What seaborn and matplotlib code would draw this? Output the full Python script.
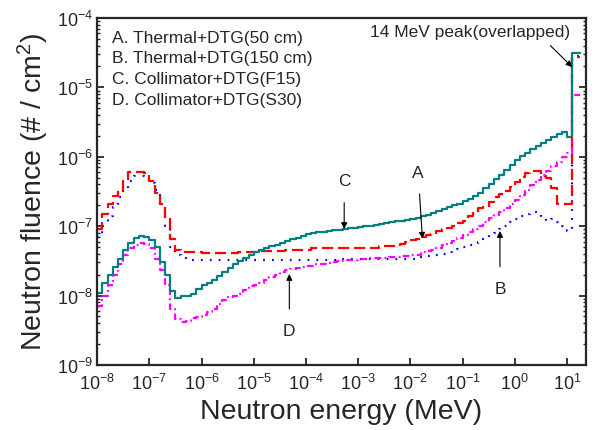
import numpy as np
import matplotlib
matplotlib.use('Agg')
import matplotlib.pyplot as plt
import seaborn as sns

# group structure: 10 bins per decade from 1e-8 MeV up to ~12.6 MeV, plus the 14 MeV peak bin
log_edges = list(np.round(np.arange(-8.0, 1.11, 0.1), 1)) + [1.25]
energy_edges = 10.0 ** np.array(log_edges)

# A. Thermal+DTG(50 cm) - red dashed
flux_a = [9e-8, 1.5e-7, 2.1e-7, 2.7e-7, 3.3e-7, 4.5e-7, 6.0e-7, 6.0e-7, 6.1e-7, 5.8e-7,
          4.4e-7, 3.0e-7, 2.1e-7, 1.35e-7, 6.5e-8, 4.5e-8, 4.3e-8, 4.3e-8, 4.3e-8, 4.3e-8,
          4.1e-8, 4.1e-8, 4.1e-8, 4.1e-8, 4.1e-8, 4.1e-8, 4.1e-8, 4.2e-8, 4.2e-8, 4.2e-8,
          4.2e-8, 4.4e-8, 4.4e-8, 4.4e-8, 4.4e-8, 4.4e-8, 4.6e-8, 4.6e-8, 4.6e-8, 4.6e-8,
          4.6e-8, 4.8e-8, 4.8e-8, 4.8e-8, 4.8e-8, 4.8e-8, 4.8e-8, 4.8e-8, 4.8e-8, 4.8e-8,
          4.9e-8, 4.9e-8, 4.9e-8, 4.9e-8, 5.2e-8, 5.2e-8, 5.2e-8, 5.2e-8, 5.6e-8, 6.0e-8,
          6.4e-8, 6.6e-8, 7.0e-8, 7.5e-8, 7.8e-8, 8.5e-8, 9.0e-8, 9.5e-8, 1.0e-7, 1.1e-7,
          1.2e-7, 1.4e-7, 1.55e-7, 1.8e-7, 1.9e-7, 2.2e-7, 2.6e-7, 2.9e-7, 3.2e-7, 3.7e-7,
          4.3e-7, 5.1e-7, 5.8e-7, 6.3e-7, 6.3e-7, 5.2e-7, 5.0e-7, 3.5e-7, 2.1e-7, 2.1e-7,
          2.1e-7, 2.7e-5]

# B. Thermal+DTG(150 cm) - blue dotted
flux_b = [7e-8, 1.1e-7, 1.4e-7, 1.9e-7, 2.6e-7, 3.4e-7, 4.4e-7, 5.2e-7, 5.3e-7, 4.8e-7,
          4.2e-7, 3.3e-7, 2.0e-7, 1.0e-7, 5.0e-8, 3.8e-8, 3.5e-8, 3.3e-8, 3.3e-8, 3.3e-8,
          3.3e-8, 3.2e-8, 3.2e-8, 3.2e-8, 3.2e-8, 3.2e-8, 3.2e-8, 3.2e-8, 3.2e-8, 3.2e-8,
          3.2e-8, 3.3e-8, 3.3e-8, 3.3e-8, 3.3e-8, 3.3e-8, 3.3e-8, 3.3e-8, 3.3e-8, 3.3e-8,
          3.3e-8, 3.3e-8, 3.3e-8, 3.3e-8, 3.3e-8, 3.3e-8, 3.4e-8, 3.4e-8, 3.4e-8, 3.4e-8,
          3.4e-8, 3.4e-8, 3.4e-8, 3.4e-8, 3.4e-8, 3.4e-8, 3.4e-8, 3.4e-8, 3.4e-8, 3.4e-8,
          3.4e-8, 3.5e-8, 3.6e-8, 3.7e-8, 3.8e-8, 3.9e-8, 4.0e-8, 4.2e-8, 4.5e-8, 4.7e-8,
          5.0e-8, 5.3e-8, 5.6e-8, 6.0e-8, 6.6e-8, 7.4e-8, 8.0e-8, 9.0e-8, 1.0e-7, 1.15e-7,
          1.25e-7, 1.4e-7, 1.5e-7, 1.6e-7, 1.6e-7, 1.4e-7, 1.2e-7, 1.25e-7, 1.15e-7, 1.0e-7,
          8.5e-8, 2.8e-5]

# C. Collimator+DTG(F15) - teal solid
flux_c = [1.1e-8, 1.5e-8, 2.0e-8, 2.6e-8, 3.4e-8, 4.6e-8, 5.8e-8, 6.8e-8, 7.2e-8, 7.0e-8,
          6.4e-8, 5.0e-8, 3.0e-8, 1.95e-8, 1.15e-8, 9.3e-9, 9.7e-9, 1.0e-8, 1.05e-8, 1.25e-8,
          1.4e-8, 1.5e-8, 1.65e-8, 1.9e-8, 2.2e-8, 2.5e-8, 2.8e-8, 3.1e-8, 3.5e-8, 3.8e-8,
          4.2e-8, 4.5e-8, 4.8e-8, 5.1e-8, 5.3e-8, 5.8e-8, 6.1e-8, 6.5e-8, 6.8e-8, 7.2e-8,
          7.6e-8, 7.9e-8, 8.1e-8, 8.3e-8, 8.5e-8, 8.7e-8, 8.9e-8, 9.1e-8, 9.3e-8, 9.5e-8,
          9.7e-8, 1.0e-7, 1.02e-7, 1.05e-7, 1.08e-7, 1.1e-7, 1.13e-7, 1.17e-7, 1.2e-7, 1.24e-7,
          1.28e-7, 1.32e-7, 1.38e-7, 1.45e-7, 1.55e-7, 1.65e-7, 1.75e-7, 1.9e-7, 2.0e-7, 2.1e-7,
          2.3e-7, 2.5e-7, 2.75e-7, 3.0e-7, 3.5e-7, 4.1e-7, 4.8e-7, 5.5e-7, 6.5e-7, 7.7e-7,
          9.0e-7, 1.02e-6, 1.15e-6, 1.3e-6, 1.45e-6, 1.6e-6, 1.75e-6, 1.9e-6, 2.1e-6, 2.3e-6,
          1.95e-6, 3.1e-5]

# D. Collimator+DTG(S30) - magenta dash-dot
flux_d = [7e-9, 1.0e-8, 1.4e-8, 2.0e-8, 2.8e-8, 3.8e-8, 4.8e-8, 5.3e-8, 5.7e-8, 5.5e-8,
          4.8e-8, 3.4e-8, 2.3e-8, 1.4e-8, 6.5e-9, 4.6e-9, 4.2e-9, 4.3e-9, 4.7e-9, 4.9e-9,
          5.3e-9, 5.8e-9, 6.5e-9, 7.5e-9, 8.5e-9, 9.5e-9, 1.0e-8, 1.05e-8, 1.2e-8, 1.35e-8,
          1.4e-8, 1.5e-8, 1.65e-8, 1.85e-8, 2.0e-8, 2.2e-8, 2.3e-8, 2.4e-8, 2.5e-8, 2.6e-8,
          2.65e-8, 2.7e-8, 2.8e-8, 2.85e-8, 2.9e-8, 3.0e-8, 3.1e-8, 3.2e-8, 3.25e-8, 3.3e-8,
          3.35e-8, 3.4e-8, 3.45e-8, 3.5e-8, 3.5e-8, 3.5e-8, 3.55e-8, 3.6e-8, 3.7e-8, 3.7e-8,
          3.8e-8, 3.9e-8, 4.2e-8, 4.4e-8, 4.6e-8, 4.9e-8, 5.4e-8, 5.8e-8, 6.2e-8, 6.8e-8,
          7.5e-8, 8.3e-8, 9.0e-8, 1.0e-7, 1.15e-7, 1.3e-7, 1.45e-7, 1.6e-7, 1.85e-7, 2.1e-7,
          2.4e-7, 2.8e-7, 3.3e-7, 3.9e-7, 4.6e-7, 5.4e-7, 6.2e-7, 7.3e-7, 8.5e-7, 1.0e-6,
          1.15e-6, 7.8e-6]

legend_lines = ['A. Thermal+DTG(50 cm)', 'B. Thermal+DTG(150 cm)',
                'C. Collimator+DTG(F15)', 'D. Collimator+DTG(S30)']

sns.set_style('ticks')
plt.rcParams['font.family'] = ['Liberation Sans', 'DejaVu Sans']
plt.rcParams['mathtext.default'] = 'regular'

fig = plt.figure(figsize=(5.96, 4.31), dpi=100)
ax = fig.add_axes([0.163, 0.151, 0.820, 0.805])

series = [
    (flux_b, '#0000ff', (0, (0.8, 3.2))),
    (flux_a, '#ff0000', (0, (5.0, 2.2))),
    (flux_d, '#ff00ff', (0, (3.0, 1.5, 0.8, 1.5))),
    (flux_c, '#008080', '-'),
]
for flux, colour, ls in series:
    y = list(flux) + [flux[-1]]
    sns.lineplot(x=energy_edges, y=y, ax=ax, estimator=None, sort=False,
                 drawstyle='steps-post', color=colour, linestyle=ls, linewidth=1.6)

ax.set_xscale('log')
ax.set_yscale('log')
ax.set_xlim(1e-8, 23)
ax.set_ylim(1e-9, 1e-4)
ax.set_xticks(10.0 ** np.arange(-8, 2))
ax.set_yticks(10.0 ** np.arange(-9, -3))

for s in ax.spines.values():
    s.set_linewidth(1.6)
ax.tick_params(which='both', direction='in', right=True, top=False, width=1.3, labelsize=13)
ax.tick_params(axis='x', which='major', pad=6)
ax.tick_params(axis='y', which='major', pad=3)
ax.tick_params(which='major', length=5)
ax.tick_params(which='minor', length=2.5, width=1.0)

ax.set_xlabel('Neutron energy (MeV)', fontsize=20.5, labelpad=3)
ax.set_ylabel('Neutron fluence (# / cm$^2$)', fontsize=20.5, labelpad=4)

for i, txt in enumerate(legend_lines):
    ax.text(0.031, 0.945 - i * 0.060, txt, transform=ax.transAxes,
            fontsize=12.5, ha='left', va='center')

arrow = dict(arrowstyle='-|>', color='black', lw=0.8, mutation_scale=9, shrinkA=0, shrinkB=0)
ax.text(0.14, 6.3e-5, '14 MeV peak(overlapped)', fontsize=12.5, ha='center', va='center')
ax.annotate('', xy=(12.6, 1.96e-5), xytext=(4.8, 4.0e-5), arrowprops=arrow)
ax.annotate('C', xy=(5.4e-4, 9.1e-8), xytext=(5.4e-4, 4.5e-7),
            fontsize=12.5, ha='center', va='center',
            arrowprops=dict(arrow, shrinkA=8))
ax.annotate('A', xy=(0.017, 6.6e-8), xytext=(0.0141, 6.0e-7),
            fontsize=12.5, ha='center', va='center',
            arrowprops=dict(arrow, shrinkA=8))
ax.annotate('B', xy=(0.52, 8.5e-8), xytext=(0.52, 1.26e-8),
            fontsize=12.5, ha='center', va='center',
            arrowprops=dict(arrow, shrinkA=8))
ax.annotate('D', xy=(4.8e-5, 2.04e-8), xytext=(4.8e-5, 3.1e-9),
            fontsize=12.5, ha='center', va='center',
            arrowprops=dict(arrow, shrinkA=8))

fig.savefig('out.png', dpi=100)
